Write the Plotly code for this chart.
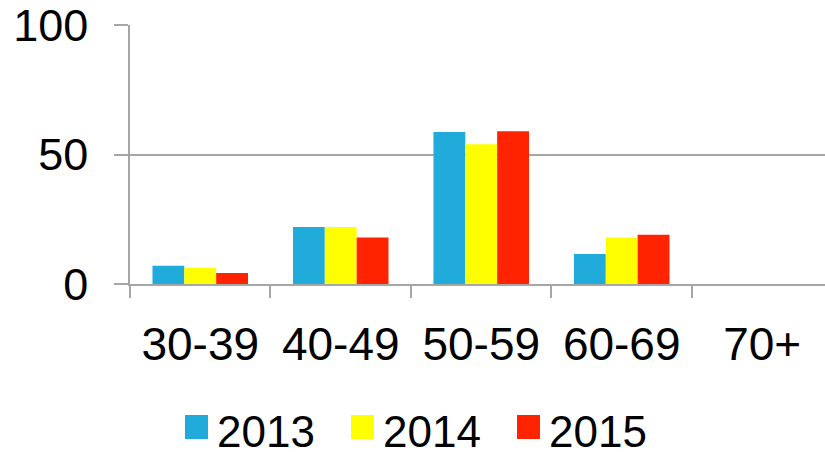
import plotly.graph_objects as go

categories = ["30-39", "40-49", "50-59", "60-69", "70+"]
years = ["2013", "2014", "2015"]
values_2013 = [7, 22, 58.7, 11.6, 0]
values_2014 = [6.3, 22, 54, 18, 0]
values_2015 = [4.2, 18, 59, 19, 0]
colors = ["#21ABDA", "#FFFF00", "#FF2300"]

series = [values_2013, values_2014, values_2015]
FONT = "Liberation Sans, Arial, sans-serif"
GRID = "#A6A6A6"

fig = go.Figure()
for name, vals, col in zip(years, series, colors):
    fig.add_trace(go.Bar(x=categories, y=vals, name=name, marker_color=col,
                         marker_line_width=0, showlegend=False))

# custom legend (large swatches), positioned in paper coordinates
PLOT_L, PLOT_W, PLOT_B, PLOT_H = 130, 695, 284, 259
leg_sq_x = [185, 351, 517]
for name, col, x0 in zip(years, colors, leg_sq_x):
    fig.add_shape(type="rect", xref="paper", yref="paper",
                  x0=(x0 - PLOT_L) / PLOT_W, x1=(x0 + 23 - PLOT_L) / PLOT_W,
                  y0=(PLOT_B - 439) / PLOT_H, y1=(PLOT_B - 415) / PLOT_H,
                  fillcolor=col, line_width=0)
    fig.add_annotation(xref="paper", yref="paper", x=(x0 + 30 - PLOT_L) / PLOT_W,
                       y=(PLOT_B - 431) / PLOT_H, text=name, showarrow=False,
                       xanchor="left", yanchor="middle",
                       font=dict(family=FONT, size=44, color="black"))

fig.update_layout(
    width=825, height=452,
    margin=dict(l=130, r=0, t=25, b=168),
    paper_bgcolor="white", plot_bgcolor="white",
    barmode="group", bargap=0.32, bargroupgap=0,
    font=dict(family=FONT, size=44, color="black"),
    showlegend=False,
)
fig.update_xaxes(range=[-0.5, 4.447], showline=True, linecolor=GRID, linewidth=1.5,
                 ticks="outside", tickson="boundaries", ticklen=12, tickcolor=GRID,
                 tickwidth=1.5, showgrid=False, tickfont=dict(size=46),
                 ticklabelstandoff=19, automargin=False, ticklabeloverflow="allow")
fig.update_yaxes(range=[0, 100], dtick=50, showline=True, linecolor=GRID, linewidth=1.5,
                 ticks="outside", ticklen=14, tickcolor=GRID, tickwidth=1.5,
                 showgrid=True, gridcolor=GRID, gridwidth=1.5, zeroline=False,
                 tickfont=dict(size=45), ticklabelstandoff=17, automargin=False,
                 ticklabeloverflow="allow")

fig.write_html("out.html", config={"displayModeBar": False},
               post_script="document.body.style.margin='0';document.body.style.overflow='hidden';")
